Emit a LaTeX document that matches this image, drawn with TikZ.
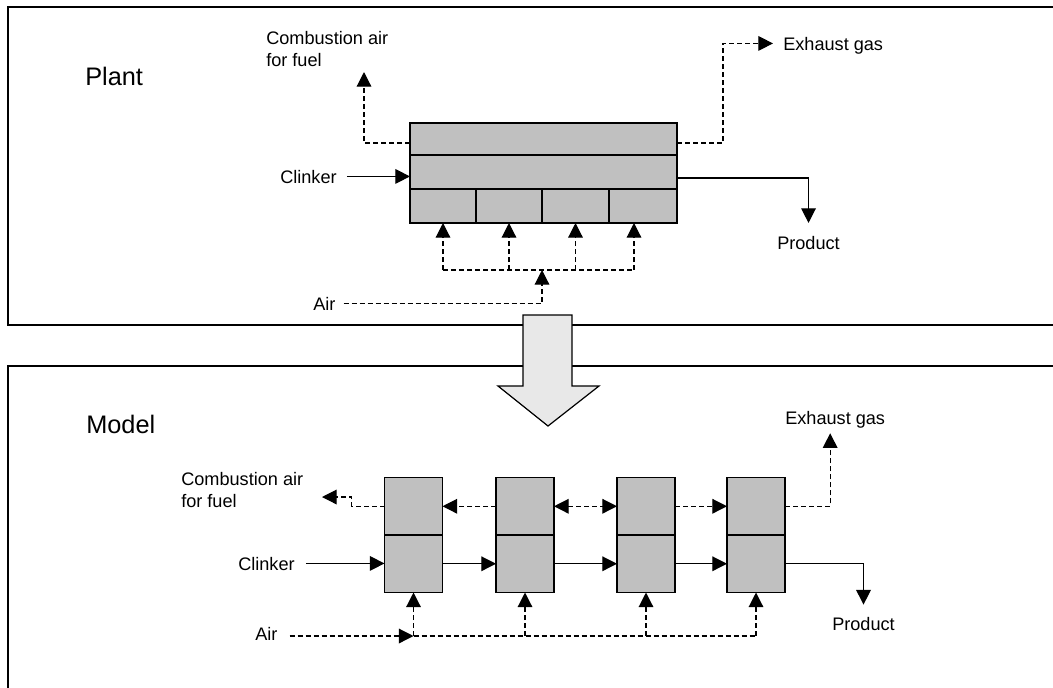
\documentclass[tikz,border=0pt]{standalone}
\usepackage{fontspec}
\setmainfont{Liberation Sans}
\usetikzlibrary{arrows.meta}
\definecolor{cellgray}{HTML}{C0C0C0}
\definecolor{arrowgray}{HTML}{E8E8E8}
\begin{document}
\begin{tikzpicture}[x=0.75pt,y=-0.75pt,
  panel/.style={line width=1pt},
  cell/.style={draw, fill=cellgray, line width=0.9pt, inner sep=0pt, outer sep=0pt},
  lbl/.style={inner sep=0pt, text depth=0pt, font=\fontsize{13.6}{16.5}\selectfont, anchor=base west},
  lbltwo/.style={inner sep=0pt, align=left, font=\fontsize{13.6}{16.5}\selectfont, anchor=base west},
  title/.style={inner sep=0pt, font=\fontsize{19}{23}\selectfont, anchor=base west},
  tip/.style={-{Triangle[length=11pt,width=11pt]}},
  flow/.style={line width=0.9pt, tip},
  dline/.style={line width=0.9pt, dash pattern=on 3.75pt off 2.25pt},
  dflow/.style={dline, tip},
  dboth/.style={dline, {Triangle[length=11pt,width=11pt]}-{Triangle[length=11pt,width=11pt]}},
  bigarrow/.style={draw, fill=arrowgray, line width=0.9pt, line join=miter}
]
\useasboundingbox (0,0) rectangle (1053,687);
\clip (0,0) rectangle (1053,687);

% frames of the two panels (open towards the right and bottom)
\draw[panel] (1070,7) -- (8,7) -- (8,325) -- (1070,325);
\draw[panel] (1070,366) -- (8,366) -- (8,700);

% block arrow from the plant to the model
\draw[bigarrow] (523,315) -- (572,315) -- (572,386) -- (599,386) -- (548,426)
  -- (498,386) -- (523,386) -- cycle;

% ---------------- Plant ----------------
\node[title] (plant) at (85,85) {Plant};

\node[cell, minimum width=200.25pt, minimum height=24pt, anchor=north west] (prow) at (410,123) {};
\node[cell, minimum width=200.25pt, minimum height=25.5pt, anchor=north west] (mrow) at (410,155) {};
\node[cell, minimum width=49.5pt, minimum height=25.5pt, anchor=north west] (c1) at (410,189) {};
\node[cell, minimum width=49.5pt, minimum height=25.5pt, anchor=north west] (c2) at (476,189) {};
\node[cell, minimum width=50.25pt, minimum height=25.5pt, anchor=north west] (c3) at (542,189) {};
\node[cell, minimum width=51pt, minimum height=25.5pt, anchor=north west] (c4) at (609,189) {};

\node[lbltwo] (pcomb) at (266,66) {Combustion air\\for fuel};
\node[lbl] (pclk) at (280,183) {Clinker};
\node[lbl] (pair) at (313,310) {Air};
\node[lbl] (pexh) at (783,50) {Exhaust gas};
\node[lbl] (pprod) at (777,249) {Product};

\coordinate (pctip) at (364,72);
\coordinate (pdist) at (542,270);
\coordinate (pairend) at ([xshift=6pt]pair.east);
\coordinate (pclkend) at ([xshift=7.5pt]pclk.east);
\coordinate (c4in) at ([xshift=-6.75pt]c4.south);

\draw[dflow] ([yshift=-3pt]prow.west) -| (pctip);
\draw[dflow] ([yshift=-3pt]prow.east) -- ++(46,0) |- ([xshift=-7.5pt]pexh.west);
\draw[flow] (pclkend) -- (pclkend -| mrow.west);
\draw[flow] ([yshift=-4.5pt]mrow.east) -| ([yshift=9.5pt]pprod.north);
\draw[dflow] (pairend) -| (pdist);
\draw[dline] (pdist -| c1.south) -- (pdist -| c4in);
\foreach \c in {c1,c2,c3} {
  \draw[dflow] (pdist -| \c.south) -- (\c.south);
}
\draw[dflow] (pdist -| c4in) -- (c4in);

% ---------------- Model ----------------
\node[title] (model) at (86,433) {Model};

\foreach \i/\x in {1/413.5,2/525,3/646,4/756} {
  \node[cell, minimum width=43.5pt, minimum height=43.125pt] (u\i) at (\x,506.25) {};
  \node[cell, minimum width=43.5pt, minimum height=43.125pt] (l\i) at (\x,563.75) {};
}

\node[lbltwo] (mcomb) at (181,507) {Combustion air\\for fuel};
\node[lbl] (mclk) at (238,570) {Clinker};
\node[lbl] (mair) at (255,640) {Air};
\node[lbl] (mexh) at (785,424) {Exhaust gas};
\node[lbl] (mprod) at (832,630) {Product};

\coordinate (mctip) at (322,497);
\coordinate (mjunc) at (413.5,636);
\coordinate (mairend) at ([xshift=9pt]mair.east);
\coordinate (mclkend) at ([xshift=8.25pt]mclk.east);

% clinker passes through the four stages
\draw[flow] (mclkend) -- (mclkend -| l1.west);
\draw[flow] (l1.east) -- (l2.west);
\draw[flow] (l2.east) -- (l3.west);
\draw[flow] (l3.east) -- (l4.west);
\draw[flow] (l4.east) -| ([yshift=9pt]mprod.north);

% gas exchange between the stages
\draw[dflow] (u1.west) -- ++(-33,0) |- (mctip);
\draw[dflow] (u2.west) -- (u1.east);
\draw[dboth] (u2.east) -- (u3.west);
\draw[dflow] (u3.east) -- (u4.west);
\draw[dflow] (u4.east) -| ([xshift=-3.75pt,yshift=-6.75pt]mexh.south);

% air supply to each stage
\draw[dflow] (mairend |- mjunc) -- (mjunc);
\draw[dline] (mjunc) -- (mjunc -| l4.south);
\foreach \i in {1,2,3,4} {
  \draw[dflow] (mjunc -| l\i.south) -- (l\i.south);
}
\end{tikzpicture}
\end{document}
